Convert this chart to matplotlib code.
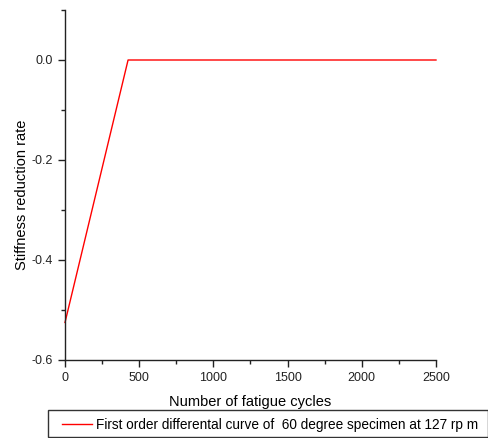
import matplotlib
matplotlib.use("Agg")
import matplotlib.pyplot as plt
from matplotlib.ticker import MultipleLocator
from matplotlib.patches import Rectangle

cycles = [0, 425, 2500]
rate = [-0.525, 0.0, 0.0]
series_label = "First order differental curve of  60 degree specimen at 127 rp m"

plt.rcParams['font.family'] = ['Liberation Sans', 'DejaVu Sans']

W, H = 489, 438
fig = plt.figure(figsize=(W/100, H/100), dpi=100)
ax = fig.add_axes([65/W, 1-360/H, (436-65)/W, 350/H])
line, = ax.plot(cycles, rate, color='#ff0000', lw=1.0, clip_on=False)
ax.set_xlim(0, 2500)
ax.set_ylim(-0.6, 0.1)
ax.xaxis.set_major_locator(MultipleLocator(500))
ax.xaxis.set_minor_locator(MultipleLocator(250))
ax.yaxis.set_minor_locator(MultipleLocator(0.1))
ax.set_yticks([-0.6, -0.4, -0.2, 0.0])
ax.set_yticklabels(['-0.6', '-0.4', '-0.2', '0.0'])
ax.spines['top'].set_visible(False)
ax.spines['right'].set_visible(False)
for s in ('left', 'bottom'):
    ax.spines[s].set_linewidth(1.0)
    ax.spines[s].set_color('#222222')
ax.tick_params(which='major', length=5, width=1, labelsize=9, direction='out', colors='#222222')
ax.tick_params(which='minor', length=3, width=1, direction='out', colors='#222222')
ax.set_xlabel('Number of fatigue cycles', fontsize=10.5, labelpad=8)
ax.set_ylabel('Stiffness reduction rate', fontsize=10.5)
ax.yaxis.set_label_coords((29-65)/(436-65), (360-195)/350)

fig.patches.append(Rectangle((48/W, 1-437/H), (488-48)/W, 27/H, transform=fig.transFigure,
                             facecolor='white', edgecolor='#333333', lw=1.0))
leg = fig.legend([line], [series_label], loc='center left',
                 bbox_to_anchor=(62/W, 1-424.5/H),
                 fontsize=9.8, frameon=False,
                 handlelength=2.2, handletextpad=0.3, borderaxespad=0, borderpad=0)

fig.savefig('out.png', dpi=100)
